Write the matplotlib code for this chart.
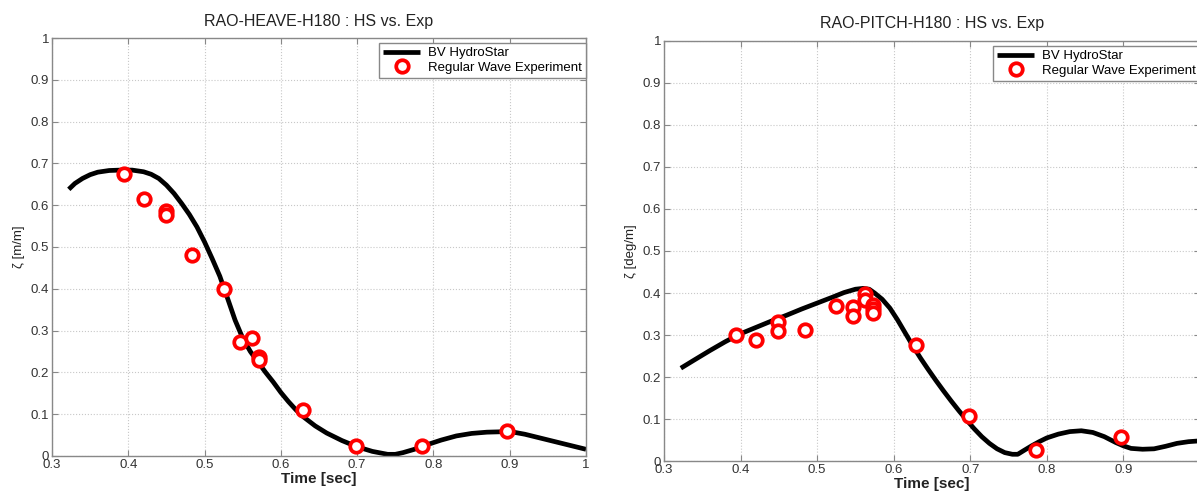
import matplotlib
matplotlib.use("Agg")
import matplotlib.pyplot as plt
from matplotlib.ticker import FormatStrFormatter, MultipleLocator

plt.rcParams['font.family'] = ['Liberation Sans', 'DejaVu Sans']

# heave RAO (left panel)
heave_t = [0.322, 0.330, 0.340, 0.350, 0.360, 0.375, 0.390, 0.405, 0.420, 0.430,
           0.440, 0.450, 0.460, 0.470, 0.480, 0.490, 0.500, 0.510, 0.520, 0.530,
           0.540, 0.550, 0.560, 0.570, 0.580, 0.590, 0.600, 0.610, 0.620, 0.630,
           0.645, 0.660, 0.680, 0.700, 0.720, 0.740, 0.750, 0.760, 0.775, 0.790,
           0.810, 0.830, 0.850, 0.870, 0.890, 0.905, 0.920, 0.940, 0.960, 0.980,
           1.000]
heave_hs = [0.638, 0.652, 0.664, 0.673, 0.679, 0.683, 0.684, 0.684, 0.680, 0.674,
            0.664, 0.648, 0.628, 0.604, 0.578, 0.548, 0.512, 0.472, 0.430, 0.378,
            0.325, 0.282, 0.250, 0.225, 0.200, 0.177, 0.152, 0.130, 0.110, 0.093,
            0.072, 0.055, 0.037, 0.022, 0.011, 0.004, 0.004, 0.008, 0.016, 0.026,
            0.038, 0.048, 0.054, 0.057, 0.058, 0.057, 0.052, 0.043, 0.034, 0.025,
            0.016]
heave_exp_t = [0.394, 0.420, 0.449, 0.449, 0.484, 0.525, 0.547, 0.562, 0.572, 0.572,
               0.629, 0.698, 0.785, 0.897]
heave_exp = [0.674, 0.615, 0.586, 0.576, 0.482, 0.400, 0.272, 0.283, 0.238, 0.229,
             0.110, 0.024, 0.024, 0.059]

# pitch RAO (right panel)
pitch_t = [0.322, 0.340, 0.360, 0.380, 0.400, 0.420, 0.440, 0.460, 0.480, 0.500,
           0.520, 0.535, 0.550, 0.560, 0.568, 0.575, 0.585, 0.595, 0.605, 0.615,
           0.625, 0.635, 0.645, 0.655, 0.665, 0.675, 0.685, 0.695, 0.705, 0.715,
           0.725, 0.735, 0.745, 0.755, 0.762, 0.770, 0.780, 0.790, 0.800, 0.815,
           0.830, 0.845, 0.860, 0.875, 0.890, 0.900, 0.910, 0.925, 0.940, 0.955,
           0.970, 0.985, 1.000]
pitch_hs = [0.221, 0.241, 0.263, 0.284, 0.303, 0.318, 0.333, 0.347, 0.362, 0.376,
            0.390, 0.401, 0.409, 0.411, 0.409, 0.400, 0.385, 0.364, 0.336, 0.305,
            0.274, 0.245, 0.218, 0.192, 0.167, 0.143, 0.120, 0.098, 0.077, 0.058,
            0.042, 0.029, 0.020, 0.016, 0.016, 0.025, 0.036, 0.046, 0.055, 0.064,
            0.070, 0.072, 0.068, 0.058, 0.044, 0.036, 0.030, 0.028, 0.029, 0.035,
            0.042, 0.046, 0.048]
pitch_exp_t = [0.394, 0.420, 0.449, 0.449, 0.484, 0.525, 0.547, 0.547, 0.563, 0.563,
               0.573, 0.573, 0.573, 0.629, 0.698, 0.786, 0.897]
pitch_exp = [0.300, 0.287, 0.330, 0.310, 0.312, 0.370, 0.366, 0.346, 0.397, 0.384,
             0.372, 0.362, 0.352, 0.276, 0.107, 0.027, 0.056]

W, H = 1197, 498
fig = plt.figure(figsize=(W / 100, H / 100), dpi=100)

def make_ax(px_left, px_right, px_top, px_bottom):
    return fig.add_axes([px_left / W, 1 - px_bottom / H,
                         (px_right - px_left) / W, (px_bottom - px_top) / H])

panels = [
    (make_ax(52, 586, 38, 456), heave_t, heave_hs, heave_exp_t, heave_exp,
     "RAO-HEAVE-H180 : HS vs. Exp", "ζ [m/m]"),
    (make_ax(664, 1200, 41, 461), pitch_t, pitch_hs, pitch_exp_t, pitch_exp,
     "RAO-PITCH-H180 : HS vs. Exp", "ζ [deg/m]"),
]

for ax, t, hs, et, ev, title, ylab in panels:
    ax.plot(t, hs, "-", color="black", lw=3.4, label="BV HydroStar", zorder=2,
            solid_joinstyle="round", solid_capstyle="butt")
    ax.plot(et, ev, "o", mfc="white", mec="#ff0000", mew=2.7, ms=9,
            label="Regular Wave Experiment", zorder=3)
    ax.set_xlim(0.3, 1.0)
    ax.set_ylim(0, 1)
    ax.xaxis.set_major_locator(MultipleLocator(0.1))
    ax.yaxis.set_major_locator(MultipleLocator(0.1))
    ax.xaxis.set_major_formatter(FormatStrFormatter('%g'))
    ax.yaxis.set_major_formatter(FormatStrFormatter('%g'))
    ax.grid(True, ls=":", color="#c8c8c8", lw=0.8)
    ax.tick_params(direction="in", top=True, right=True, length=4,
                   color="#888888", labelsize=9.5, labelcolor="#333333", pad=2)
    for s in ax.spines.values():
        s.set_color("#888888")
        s.set_linewidth(1.0)
    ax.set_title(title, fontsize=11.5, color="#222222", pad=9)
    ax.set_xlabel("Time [sec]", fontsize=11, fontweight="bold", color="#222222", labelpad=1)
    ax.set_ylabel(ylab, fontsize=9.5, color="#222222", labelpad=4)
    leg = ax.legend(loc="upper right", bbox_to_anchor=(1.0, 0.988), borderaxespad=0,
                    fontsize=9.5, frameon=True, fancybox=False, framealpha=1,
                    edgecolor="#888888", handlelength=2.8, borderpad=0.3,
                    labelspacing=0.2, handletextpad=0.6)
    leg.get_frame().set_linewidth(1.0)

fig.savefig("out.png", dpi=100)
